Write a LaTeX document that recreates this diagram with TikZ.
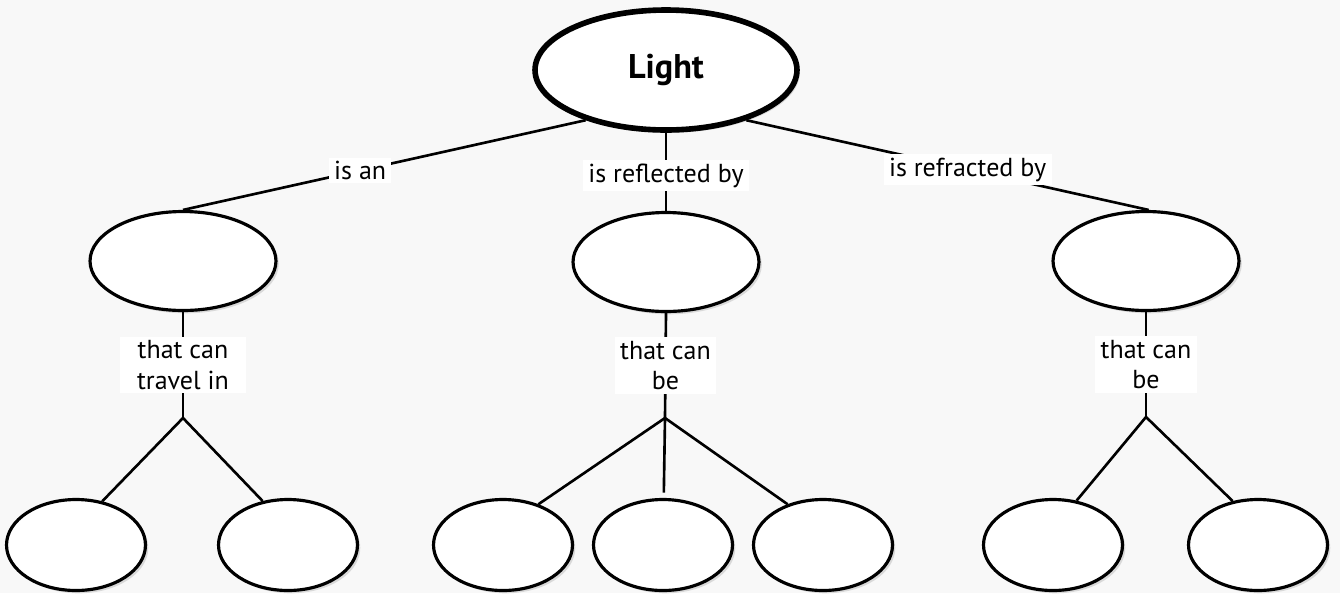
\documentclass[tikz,border=0pt]{standalone}
\usepackage{fontspec}
\setmainfont{PT Sans}
\usepackage{tikz}
\usetikzlibrary{shapes.geometric,shadows,positioning}
\definecolor{paper}{RGB}{248,248,248}

\begin{document}
\begin{tikzpicture}[x=0.02cm, y=-0.02cm,
    concept/.style={ellipse, draw, line width=1.8pt, fill=white,
        drop shadow={shadow xshift=1.6pt, shadow yshift=-1.6pt, opacity=0.25}},
    topconcept/.style={concept, line width=3.2pt, minimum width=5.24cm, minimum height=2.4cm,
        font=\fontsize{19.5}{22}\selectfont\bfseries},
    midconcept/.style={concept, minimum width=3.72cm, minimum height=1.98cm},
    leafconcept/.style={concept, minimum width=2.78cm, minimum height=1.82cm},
    link/.style={fill=white, inner xsep=3pt, inner ysep=2pt, align=center,
        font=\fontsize{14.8}{17.6}\selectfont},
    conn/.style={line width=1.5pt}]
        % Background
        \fill[paper] (0,0) rectangle (1340,593);
        \useasboundingbox (0,0) rectangle (1340,593);
        % Concepts
        \node[topconcept] (light) at (666,70) {Light};
        \node[midconcept] (an) at (183,261) {};
        \node[midconcept] (reflector) at (666,262) {};
        \node[midconcept] (refractor) at (1146,261) {};
        % Leaves
        \node[leafconcept] (an1) at (76,545) {};
        \node[leafconcept] (an2) at (288,545) {};
        \node[leafconcept] (refl1) at (503,545) {};
        \node[leafconcept] (refl2) at (663,545) {};
        \node[leafconcept] (refl3) at (823,545) {};
        \node[leafconcept] (refr1) at (1053,545) {};
        \node[leafconcept] (refr2) at (1258,545) {};
        % Fork points
        \coordinate (forkan) at (183,418);
        \coordinate (forkrefl) at (665,418);
        \coordinate (forkrefr) at (1146,417);
        % Links from Light
        \draw[conn] (light.212) -- node[link, pos=0.56] (isan) {is an} (an.north);
        \draw[conn] (light.south) -- node[link, pos=0.55] (isrefl) {is reflected by} (reflector.north);
        \draw[conn] (light.328) -- node[link, pos=0.55] (isrefr) {is refracted by} (refractor.87);
        % Links to the forks
        \draw[conn] (an.south) -- node[link, inner xsep=10pt] (travel) {that can\\travel in} (forkan);
        \draw[conn] (reflector.south) -- node[link] (canbe1) {that can\\be} (forkrefl);
        \draw[conn] (refractor.south) -- node[link] (canbe2) {that can\\be} (forkrefr);
        % Branches
        \draw[conn] (forkan) -- (an1.59);
        \draw[conn] (forkan) -- (an2.120);
        \draw[conn] (forkrefl) -- (refl1.49);
        \draw[conn, shorten >=3pt] (forkrefl) -- (refl2);
        \draw[conn] (forkrefl) -- (refl3.131);
        \draw[conn] (forkrefr) -- (refr1.62);
        \draw[conn] (forkrefr) -- (refr2.120);
      \end{tikzpicture}
\end{document}
